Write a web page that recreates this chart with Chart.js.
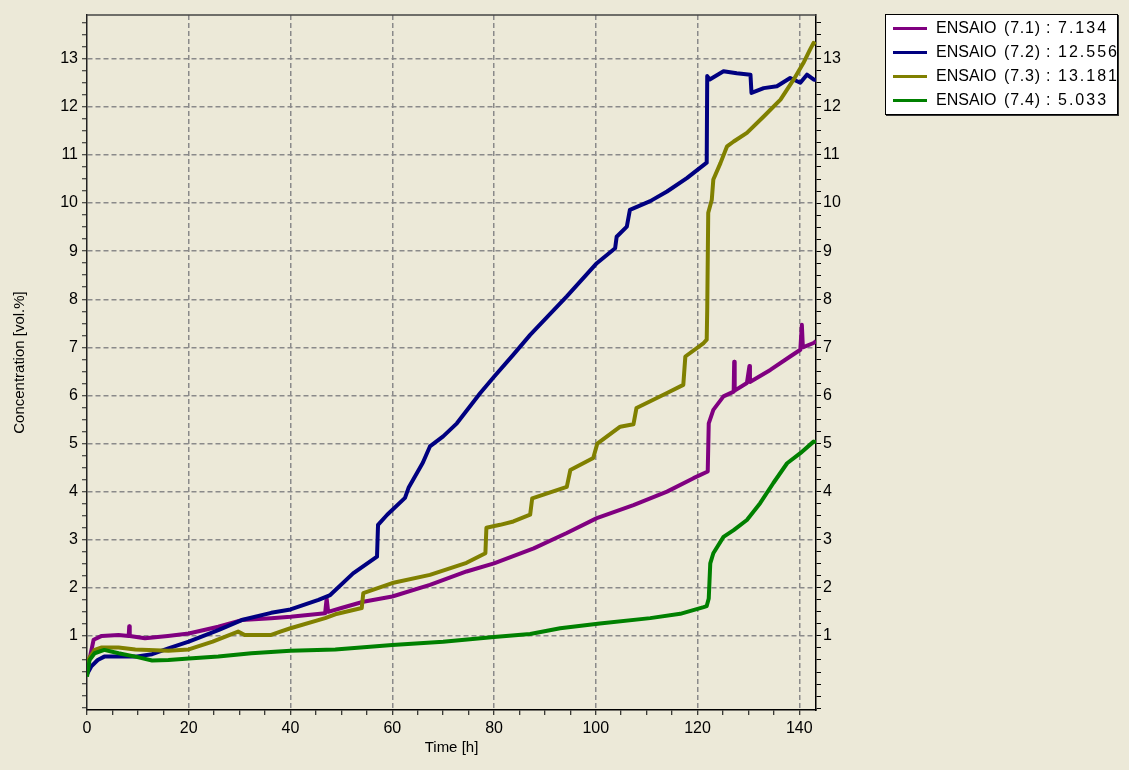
<!DOCTYPE html>
<html>
<head>
<meta charset="utf-8">
<script src="https://cdn.jsdelivr.net/npm/chart.js@4.4.1/dist/chart.umd.min.js"></script>
<style>
  html, body { margin: 0; padding: 0; background: #ECE9D8; }
  #wrap { position: relative; width: 1129px; height: 770px; }
  #legend {
    position: absolute; left: 885px; top: 14px; width: 231px; height: 99px;
    background: #fff; border: 1px solid #000; box-shadow: 1px 1px 0 #333;
    font: 16px "Liberation Sans", Arial, sans-serif; color: #000;
  }
  .row { position: absolute; left: 0; width: 100%; height: 24px; line-height: 24px; white-space: pre; }
  .sw { position: absolute; left: 7px; top: 11px; width: 34px; height: 3px; }
  .nm { position: absolute; left: 50px; }
  .id { position: absolute; left: 118px; letter-spacing: 0.8px; }
  .cl { position: absolute; left: 160px; }
  .vl { position: absolute; left: 172px; letter-spacing: 2px; }
</style>
</head>
<body>
<div id="wrap">
  <canvas id="chart" width="1129" height="770"></canvas>
  <div id="legend"></div>
</div>
<script>
// series names / legend
const seriesNames = ["ENSAIO", "ENSAIO", "ENSAIO", "ENSAIO"];
const seriesIds = ["(7.1)", "(7.2)", "(7.3)", "(7.4)"];
const legendValues = ["7.134", "12.556", "13.181", "5.033"];
const seriesColors = ["#800080", "#000080", "#808000", "#008000"];

// axis labels
const xLabels = [0, 20, 40, 60, 80, 100, 120, 140];
const yLabels = [1, 2, 3, 4, 5, 6, 7, 8, 9, 10, 11, 12, 13];

// ENSAIO (7.1)
const t71 = [0.3, 0.6, 1.3, 2.9, 6.2, 8.2, 8.3, 8.4, 11.4, 15.9, 20, 25.8, 30.4, 36.2, 40, 46.8, 47.1, 47.4,
  50, 54.3, 60, 67.4, 74.6, 80, 87.8, 94.3, 100.2, 107.4, 114, 119.2, 122.0, 122.2, 123.1, 125.1, 127.1,
  127.2, 127.3, 129.7, 130.2, 130.3, 134.3, 138.2, 140.2, 140.5, 140.7, 142.8, 143.3];
const v71 = [0.45, 0.57, 0.92, 1.0, 1.02, 1.0, 1.2, 1.0, 0.95, 1.0, 1.05, 1.19, 1.33, 1.37, 1.40, 1.47, 1.78, 1.5,
  1.58, 1.71, 1.82, 2.06, 2.34, 2.51, 2.82, 3.14, 3.45, 3.72, 4.0, 4.28, 4.42, 5.42, 5.7, 5.98, 6.08,
  6.7, 6.1, 6.26, 6.61, 6.28, 6.53, 6.81, 6.95, 7.47, 7.0, 7.09, 7.13];

// ENSAIO (7.2)
const t72 = [0, 0.8, 2.1, 3.4, 9.5, 12.8, 16, 20, 25.8, 30.4, 36.2, 40, 45.5, 47.8, 52.3, 57, 57.2, 59,
  62.5, 63.2, 66, 67.4, 70, 72.7, 77.3, 80, 83.8, 87.1, 94.3, 100.2, 103.8, 104.1, 106.1, 106.7, 110.7,
  114, 117.9, 121.8, 121.9, 122.4, 125.1, 127.7, 130.4, 130.6, 133, 135.6, 138.2, 140.2, 141.5, 142.8, 143.3];
const v72 = [0.2, 0.36, 0.5, 0.57, 0.57, 0.62, 0.74, 0.88, 1.12, 1.33, 1.48, 1.55, 1.75, 1.85, 2.3, 2.65, 3.31, 3.52,
  3.87, 4.08, 4.6, 4.94, 5.15, 5.42, 6.05, 6.39, 6.85, 7.26, 8.06, 8.75, 9.06, 9.3, 9.51, 9.86, 10.04,
  10.24, 10.52, 10.84, 12.64, 12.57, 12.74, 12.7, 12.67, 12.29, 12.39, 12.43, 12.6, 12.5, 12.67, 12.57, 12.556];

// ENSAIO (7.3)
const t73 = [0, 0.2, 1.5, 2.9, 6.2, 9.5, 16, 20, 24.7, 29.7, 31, 36.2, 38, 40, 46.8, 48.8, 54, 54.3, 60,
  67.4, 74.6, 78.3, 78.5, 81.2, 83.8, 87.1, 87.5, 94.3, 95, 99.5, 100.3, 104.8, 107.4, 108, 114, 117.2,
  117.6, 121.2, 121.8, 121.9, 122.1, 122.8, 123.1, 124.5, 125.8, 127.1, 129.7, 133, 136.3, 138.9, 140.8,
  142.1, 142.8, 143.2];
const v73 = [0.45, 0.5, 0.71, 0.76, 0.76, 0.72, 0.69, 0.72, 0.88, 1.09, 1.02, 1.02, 1.09, 1.16, 1.37, 1.45, 1.58, 1.89, 2.1,
  2.27, 2.52, 2.72, 3.25, 3.31, 3.38, 3.52, 3.86, 4.1, 4.45, 4.7, 5.0, 5.35, 5.4, 5.74, 6.05, 6.22,
  6.81, 7.09, 7.16, 7.78, 9.8, 10.07, 10.49, 10.83, 11.18, 11.28, 11.46, 11.8, 12.15, 12.57, 12.91,
  13.19, 13.33, 13.3];

// ENSAIO (7.4)
const t74 = [0, 0.5, 1.5, 3.4, 6.2, 9.5, 12.8, 16, 20, 25.8, 32.3, 40, 48.8, 60, 70, 80, 87.1, 93, 100.8,
  110.7, 116.6, 121.2, 121.8, 122.2, 122.5, 123.1, 125.1, 127.1, 129.7, 132.3, 134.9, 137.6, 140.2, 142.8, 143.3];
const v74 = [0.15, 0.5, 0.64, 0.71, 0.64, 0.57, 0.49, 0.5, 0.53, 0.57, 0.64, 0.69, 0.72, 0.81, 0.88, 0.98, 1.04, 1.16, 1.26,
  1.37, 1.46, 1.6, 1.62, 1.78, 2.51, 2.72, 3.06, 3.2, 3.41, 3.76, 4.18, 4.59, 4.8, 5.04, 5.03];

const times = [t71, t72, t73, t74];
const values = [v71, v72, v73, v74];

// tick positions (minor ticks every 5 h and every 0.25 vol.%)
const xTicks = [];
for (let v = 0; v <= 140; v += 5) xTicks.push(v);
const yTicks = [];
for (let v = -0.5; v <= 13.8; v += 0.25) yTicks.push(Math.round(v * 100) / 100);

const tickFont = { family: "'Liberation Sans', Arial, sans-serif", size: 16 };
const titleFont = { family: "'Liberation Sans', Arial, sans-serif", size: 15 };
const gridGray = "#8a8a8a";

const datasets = times.map((t, i) => ({
  label: seriesNames[i] + " " + seriesIds[i],
  data: t.map((x, j) => ({ x: x, y: values[i][j] })),
  borderColor: seriesColors[i],
  backgroundColor: seriesColors[i],
  borderWidth: 4,
  borderJoinStyle: "round",
  pointRadius: 0,
  showLine: true,
  tension: 0,
  order: 4 - i
}));

const frame = {
  id: "frame",
  beforeDraw(chart) {
    const c = chart.ctx;
    c.save();
    c.fillStyle = "#ECE9D8";
    c.fillRect(0, 0, chart.width, chart.height);
    c.restore();
  },
  afterDraw(chart) {
    const a = chart.chartArea;
    const c = chart.ctx;
    c.save();
    c.strokeStyle = "#444";
    c.lineWidth = 1.5;
    c.beginPath();
    c.moveTo(a.left, a.top);
    c.lineTo(a.right, a.top);
    c.stroke();
    c.restore();
  }
};

const yTickOpts = {
  callback: v => (yLabels.includes(v) ? String(v) : ""),
  font: tickFont, color: "#000", autoSkip: false
};

new Chart(document.getElementById("chart"), {
  type: "scatter",
  data: { datasets: datasets },
  plugins: [frame],
  options: {
    responsive: false,
    animation: false,
    layout: { padding: { left: 0, top: 15, right: 273, bottom: 0 } },
    plugins: { legend: { display: false }, tooltip: { enabled: false } },
    scales: {
      x: {
        type: "linear", min: 0, max: 143.28,
        afterBuildTicks: s => { s.ticks = xTicks.map(v => ({ value: v })); },
        afterFit: s => { s.height = 60; },
        ticks: {
          callback: v => (xLabels.includes(v) ? String(v) : ""),
          font: tickFont, color: "#000", padding: 4, maxRotation: 0, autoSkip: false
        },
        grid: {
          color: c => (c.tick && c.tick.value > 0 && c.tick.value % 20 === 0 ? gridGray : "rgba(0,0,0,0)"),
          lineWidth: 1.5, tickColor: "#000", tickLength: 5, tickWidth: 1
        },
        border: { color: "#000", width: 1.5, dash: [5, 3] },
        title: { display: true, text: "Time [h]", font: titleFont, color: "#000", padding: { top: 0, bottom: 13 } }
      },
      y: {
        type: "linear", position: "left", min: -0.54, max: 13.91,
        afterBuildTicks: s => { s.ticks = yTicks.map(v => ({ value: v })); },
        afterFit: s => { s.width = 87; },
        ticks: Object.assign({ padding: 4 }, yTickOpts),
        grid: {
          color: c => (c.tick && yLabels.includes(c.tick.value) ? gridGray : "rgba(0,0,0,0)"),
          lineWidth: 1.5, tickColor: "#222", tickLength: 5, tickWidth: 1
        },
        border: { color: "#222", width: 1.5, dash: [5, 3] },
        title: { display: true, text: "Concentration [vol.%]", font: titleFont, color: "#000", padding: { top: 11, bottom: 0 } }
      },
      y2: {
        type: "linear", position: "right", min: -0.54, max: 13.91,
        afterBuildTicks: s => { s.ticks = yTicks.map(v => ({ value: v })); },
        afterFit: s => { s.width = 40; },
        ticks: Object.assign({ padding: 2 }, yTickOpts),
        grid: { drawOnChartArea: false, tickColor: "#000", tickLength: 5, tickWidth: 1 },
        border: { color: "#000", width: 1.5 }
      }
    }
  }
});

// legend box
const legend = document.getElementById("legend");
seriesIds.forEach((id, i) => {
  const row = document.createElement("div");
  row.className = "row";
  row.style.top = (0.7 + 24.1 * i) + "px";
  row.innerHTML = '<div class="sw" style="background:' + seriesColors[i] + '"></div>' +
    '<span class="nm">' + seriesNames[i] + '</span>' +
    '<span class="id">' + id + '</span>' +
    '<span class="cl">:</span>' +
    '<span class="vl">' + legendValues[i] + '</span>';
  legend.appendChild(row);
});
</script>
</body>
</html>
